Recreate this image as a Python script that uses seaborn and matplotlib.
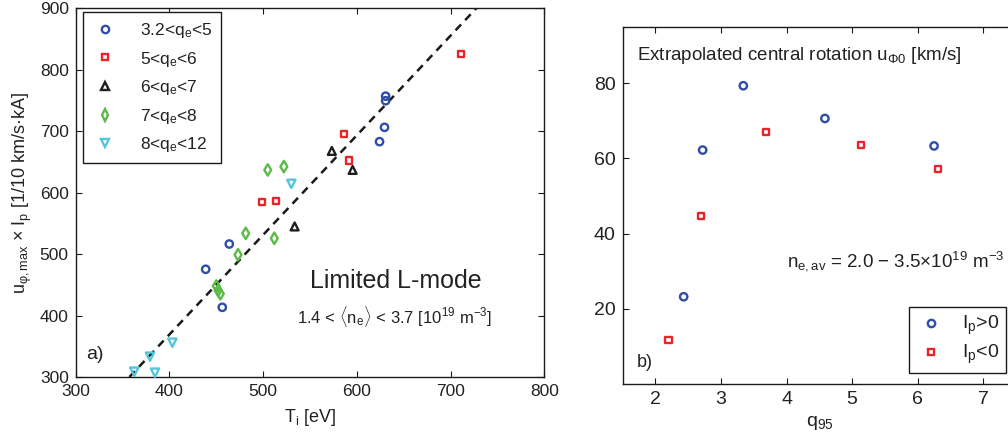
import numpy as np
import pandas as pd
import matplotlib
matplotlib.use("Agg")
import matplotlib.pyplot as plt
from matplotlib.lines import Line2D
import seaborn as sns

# ---------------- data: panel a) ----------------
groups = ["3.2<q$_e$<5", "5<q$_e$<6", "6<q$_e$<7", "7<q$_e$<8", "8<q$_e$<12"]
ti_g1 = [438.7, 463.9, 456.4, 624.2, 629.5, 630.7, 630.7]
u_g1 = [475.3, 516.4, 413.4, 683.0, 706.3, 757.0, 749.6]
ti_g2 = [499.2, 514.0, 585.9, 591.3, 711.4]
u_g2 = [584.5, 586.7, 695.5, 652.2, 825.5]
ti_g3 = [573.3, 595.5, 533.6]
u_g3 = [667.9, 637.0, 545.0]
ti_g4 = [504.9, 522.1, 481.4, 511.9, 473.2, 450.0, 452.0, 454.3]
u_g4 = [637.0, 642.4, 533.8, 525.7, 499.0, 448.0, 441.0, 435.5]
ti_g5 = [530.1, 403.1, 379.3, 362.5, 384.6]
u_g5 = [614.3, 355.8, 333.0, 308.6, 307.0]
fit_slope = 1.621
fit_intercept = -279.2

# ---------------- data: panel b) ----------------
ip_labels = ["I$_p$>0", "I$_p$<0"]
q95_pos = [2.43, 2.72, 3.34, 4.585, 6.25]
u0_pos = [23.2, 62.2, 79.3, 70.6, 63.3]
q95_neg = [2.20, 2.70, 3.69, 5.14, 6.31]
u0_neg = [11.6, 44.6, 67.1, 63.6, 57.1]

# ---------------- style ----------------
sns.set_theme(style="white")
plt.rcParams["font.family"] = ["Liberation Sans", "DejaVu Sans"]
plt.rcParams["mathtext.fontset"] = "custom"
plt.rcParams["mathtext.rm"] = "Liberation Sans"
plt.rcParams["mathtext.it"] = "Liberation Sans"
plt.rcParams["mathtext.bf"] = "Liberation Sans:bold"
plt.rcParams["text.color"] = "#222222"
plt.rcParams["axes.labelcolor"] = "#222222"

colors = ["#2f4ea6", "#e8262a", "#1e1e1e", "#5cba47", "#55c5dc"]
markers = ["o", "s", "^", "d", "v"]
msizes = [28, 20, 32, 34, 36]

fig = plt.figure(figsize=(10.08, 4.45), dpi=100)
ax1 = fig.add_axes([75.7 / 1008, 1 - 377 / 445, (544.3 - 75.7) / 1008, (377 - 8.3) / 445])
ax2 = fig.add_axes([622.7 / 1008, 1 - 384 / 445, (1016 - 622.7) / 1008, (384 - 26.7) / 445])

# ---------- panel a ----------
ti_all = [ti_g1, ti_g2, ti_g3, ti_g4, ti_g5]
u_all = [u_g1, u_g2, u_g3, u_g4, u_g5]
frames = []
for lab, xs, ys in zip(groups, ti_all, u_all):
    frames.append(pd.DataFrame({"Ti": xs, "u": ys, "grp": lab}))
dfa = pd.concat(frames, ignore_index=True)

ylo, yhi = 300, 900
xfit = np.array([(ylo - fit_intercept) / fit_slope, (yhi - fit_intercept) / fit_slope])
sns.lineplot(x=xfit, y=fit_slope * xfit + fit_intercept, ax=ax1, color="#1a1a1a",
             lw=1.8, dashes=False, linestyle=(0, (3.2, 2.4)), zorder=2)

for lab, c, m, s in zip(groups, colors, markers, msizes):
    sub = dfa[dfa["grp"] == lab]
    sns.scatterplot(data=sub, x="Ti", y="u", ax=ax1, marker=m, s=s, zorder=3,
                    color=c, clip_on=False, legend=False)
    coll = ax1.collections[-1]
    coll.set_facecolor("none")
    coll.set_edgecolor(c)
    coll.set_linewidth(1.7)

ax1.set_xlim(300, 800)
ax1.set_ylim(ylo, yhi)
ax1.set_xticks([300, 400, 500, 600, 700, 800])
ax1.set_yticks([300, 400, 500, 600, 700, 800, 900])
ax1.set_xlabel("T$_\\mathrm{i}$ [eV]", fontsize=13, labelpad=6)
ax1.set_ylabel("u$_{\\mathrm{φ,max}}$ × I$_\\mathrm{p}$ [1/10 km/s·kA]", fontsize=13, labelpad=4)

handles = [Line2D([], [], ls="none", marker=m, ms=np.sqrt(s), mfc="none", mec=c, mew=1.7)
           for c, m, s in zip(colors, markers, msizes)]
leg1 = ax1.legend(handles, groups, loc="upper left", bbox_to_anchor=(0.0149, 0.9892),
                  borderaxespad=0, fontsize=12.5, frameon=True, fancybox=False,
                  edgecolor="#1a1a1a", framealpha=1, handlelength=1.6, handletextpad=1.2,
                  labelspacing=0.55, borderpad=0.5)
leg1.get_frame().set_linewidth(1.0)

ax1.text(0.50, 0.26, "Limited L-mode", transform=ax1.transAxes, fontsize=18, va="center")
ax1.text(0.473, 0.165, "1.4 < $\\langle$n$_e\\rangle$ < 3.7 [10$^{19}$ m$^{-3}$]",
         transform=ax1.transAxes, fontsize=12, va="center")
ax1.text(0.023, 0.06, "a)", transform=ax1.transAxes, fontsize=14, va="center")

# ---------- panel b ----------
dfb = pd.concat([
    pd.DataFrame({"q95": q95_pos, "u0": u0_pos, "Ip": ip_labels[0]}),
    pd.DataFrame({"q95": q95_neg, "u0": u0_neg, "Ip": ip_labels[1]}),
], ignore_index=True)
for lab, c, m, s in zip(ip_labels, colors[:2], markers[:2], msizes[:2]):
    sub = dfb[dfb["Ip"] == lab]
    sns.scatterplot(data=sub, x="q95", y="u0", ax=ax2, marker=m, s=s, zorder=3,
                    color=c, legend=False)
    coll = ax2.collections[-1]
    coll.set_facecolor("none")
    coll.set_edgecolor(c)
    coll.set_linewidth(1.7)

ax2.set_xlim(1.5, 7.5)
ax2.set_ylim(0, 95)
ax2.set_xticks([2, 3, 4, 5, 6, 7])
ax2.set_yticks([20, 40, 60, 80])
ax2.set_xlabel("q$_{95}$", fontsize=14, labelpad=4)
ax2.set_ylabel("")

handles2 = [Line2D([], [], ls="none", marker=m, ms=np.sqrt(s), mfc="none", mec=c, mew=1.7)
            for c, m, s in zip(colors[:2], markers[:2], msizes[:2])]
leg2 = ax2.legend(handles2, ip_labels, loc="lower right", bbox_to_anchor=(0.9746, 0.030),
                  borderaxespad=0, fontsize=14, frameon=True, fancybox=False,
                  edgecolor="#1a1a1a", framealpha=1, handlelength=1.6, handletextpad=0.8,
                  labelspacing=0.3, borderpad=0.35)
leg2.get_frame().set_linewidth(1.0)

ax2.text(0.037, 0.92, "Extrapolated central rotation u$_{\\mathrm{Φ0}}$ [km/s]",
         transform=ax2.transAxes, fontsize=13.5, va="center")
ax2.text(0.418, 0.345, "n$_{\\mathrm{e,av}}$ = 2.0 − 3.5×10$^{19}$ m$^{-3}$",
         transform=ax2.transAxes, fontsize=13.5, va="center")
ax2.text(0.035, 0.06, "b)", transform=ax2.transAxes, fontsize=13, va="center")

for ax, fs in ((ax1, 12.5), (ax2, 14)):
    for sp in ax.spines.values():
        sp.set_visible(True)
        sp.set_color("#1a1a1a")
        sp.set_linewidth(1.0)
    ax.tick_params(axis="both", which="both", direction="in", length=4, width=0.8,
                   top=True, right=True, bottom=True, left=True,
                   labelsize=fs, colors="#1a1a1a", labelcolor="#222222", pad=5)

fig.savefig("out.png", dpi=100)
